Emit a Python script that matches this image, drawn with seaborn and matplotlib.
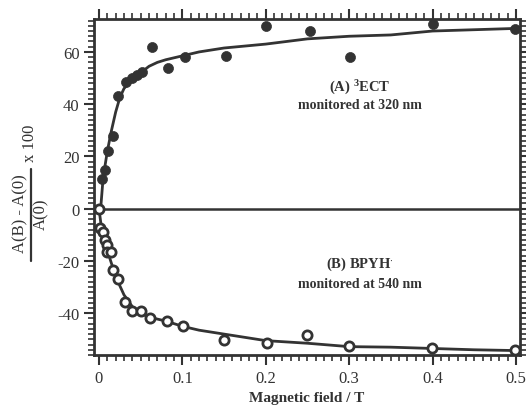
import matplotlib
matplotlib.use("Agg")
import matplotlib.pyplot as plt
from matplotlib.ticker import MultipleLocator
from matplotlib.lines import Line2D
import seaborn as sns
import pandas as pd

# ---- data ----
# (A) 3ECT, filled circles
a_field = [0.004, 0.007, 0.011, 0.017, 0.023, 0.032, 0.040, 0.045, 0.051, 0.063,
           0.083, 0.103, 0.152, 0.200, 0.253, 0.301, 0.400, 0.499]
a_signal = [11.5, 15.0, 22.0, 28.0, 43.0, 48.5, 50.0, 51.0, 52.5, 62.0,
            54.0, 58.0, 58.5, 70.0, 68.0, 58.0, 70.5, 68.8]
# (B) BPYH., open circles
b_field = [0.000, 0.001, 0.005, 0.007, 0.009, 0.010, 0.014, 0.017, 0.023, 0.031,
           0.040, 0.050, 0.061, 0.082, 0.101, 0.150, 0.201, 0.250, 0.300, 0.399, 0.499]
b_signal = [0.0, -7.3, -9.0, -12.0, -14.0, -16.5, -16.5, -23.6, -26.8, -35.6,
            -39.2, -39.0, -42.0, -43.0, -45.0, -50.3, -51.3, -48.4, -52.6, -53.5, -54.2]
# fitted curves
fit_a_field = [0.002, 0.005, 0.010, 0.015, 0.020, 0.025, 0.030, 0.040, 0.050, 0.060,
               0.070, 0.080, 0.100, 0.120, 0.150, 0.200, 0.250, 0.300, 0.350, 0.400, 0.450, 0.500]
fit_a_signal = [0.0, 12.0, 22.0, 30.0, 37.0, 42.5, 46.0, 49.5, 52.0, 54.5,
                56.0, 57.0, 58.5, 60.0, 61.5, 63.0, 65.0, 66.0, 66.5, 68.0, 68.5, 69.0]
fit_b_field = [0.000, 0.002, 0.005, 0.010, 0.015, 0.020, 0.025, 0.030, 0.040, 0.050,
               0.060, 0.080, 0.100, 0.120, 0.150, 0.200, 0.250, 0.300, 0.350, 0.400, 0.450, 0.500]
fit_b_signal = [0.0, -5.0, -10.0, -16.0, -21.0, -25.5, -29.5, -33.0, -37.5, -40.0,
                -41.5, -43.0, -45.0, -46.5, -48.0, -50.5, -51.5, -52.8, -53.0, -53.5, -54.0, -54.3]

x_ticks = [0, 0.1, 0.2, 0.3, 0.4, 0.5]
x_labels = ["0", "0.1", "0.2", "0.3", "0.4", "0.5"]
y_ticks = [-40, -20, 0, 20, 40, 60]
y_labels = ["-40", "-20", "0", "20", "40", "60"]

INK = "#333333"
W, H = 526, 410

sns.set_style("ticks")
plt.rcParams["font.family"] = ["Liberation Serif", "DejaVu Serif"]
plt.rcParams["mathtext.fontset"] = "custom"
plt.rcParams["mathtext.rm"] = "Liberation Serif"
plt.rcParams["mathtext.it"] = "Liberation Serif:italic"
plt.rcParams["mathtext.bf"] = "Liberation Serif:bold"

fig = plt.figure(figsize=(W / 100, H / 100), dpi=100)
ax = fig.add_axes([0.1787, 0.1317, 0.81, 0.8195])

ax.axhline(0, color=INK, lw=1.8, zorder=1)

fa = pd.DataFrame({"B": fit_a_field, "S": fit_a_signal})
fb = pd.DataFrame({"B": fit_b_field, "S": fit_b_signal})
sns.lineplot(data=fa, x="B", y="S", ax=ax, color=INK, lw=2.0, sort=False, zorder=2)
sns.lineplot(data=fb, x="B", y="S", ax=ax, color=INK, lw=2.0, sort=False, zorder=2)

da = pd.DataFrame({"B": a_field, "S": a_signal})
db = pd.DataFrame({"B": b_field, "S": b_signal})
sns.scatterplot(data=da, x="B", y="S", ax=ax, color=INK, s=52, edgecolor=INK,
                linewidth=0.5, zorder=3)
sns.scatterplot(data=db, x="B", y="S", ax=ax, facecolor="white", s=44,
                edgecolor=INK, linewidth=2.0, zorder=3)

ax.set_xlim(-0.006, 0.505)
ax.set_ylim(-56, 72.6)
ax.set_xticks(x_ticks)
ax.set_xticklabels(x_labels)
ax.set_yticks(y_ticks)
ax.set_yticklabels(y_labels)
ax.xaxis.set_minor_locator(MultipleLocator(0.01))
ax.yaxis.set_minor_locator(MultipleLocator(2))
ax.tick_params(which="both", direction="out", top=True, right=True,
               color=INK, labelcolor=INK, labelsize=12, width=1.5)
ax.tick_params(which="major", length=7)
ax.tick_params(which="minor", length=4, width=1.2)
for sp in ax.spines.values():
    sp.set_color(INK)
    sp.set_linewidth(2.0)

ax.set_xlabel("Magnetic field / T", fontsize=11, fontweight="bold", color=INK, labelpad=4)
ax.set_ylabel("")

# y-axis label as a rotated fraction
def fx(px):
    return px / W

def fy(py):
    return 1 - py / H

fig.text(fx(20), fy(214), "A(B) - A(0)", rotation=90, ha="center", va="center",
         fontsize=12, color=INK)
fig.text(fx(41), fy(214), "A(0)", rotation=90, ha="center", va="center",
         fontsize=12, color=INK)
fig.add_artist(Line2D([fx(30.5), fx(30.5)], [fy(262), fy(170)], color=INK, lw=1.6,
                      transform=fig.transFigure))
fig.text(fx(30), fy(143), "x 100", rotation=90, ha="center", va="center",
         fontsize=12, color=INK)

ax.text(0.313, 46.6, r"(A) $^{\mathbf{3}}$ECT", ha="center", va="center", fontsize=10.5,
        color=INK, fontweight="bold")
ax.text(0.313, 40.0, "monitored at 320 nm", ha="center", va="center", fontsize=10,
        color=INK, fontweight="bold")
ax.text(0.313, -21.0, r"(B) BPYH$^{\mathbf{\cdot}}$", ha="center", va="center", fontsize=10.5,
        color=INK, fontweight="bold")
ax.text(0.313, -28.7, "monitored at 540 nm", ha="center", va="center", fontsize=10,
        color=INK, fontweight="bold")

fig.savefig("out.png", dpi=100)
